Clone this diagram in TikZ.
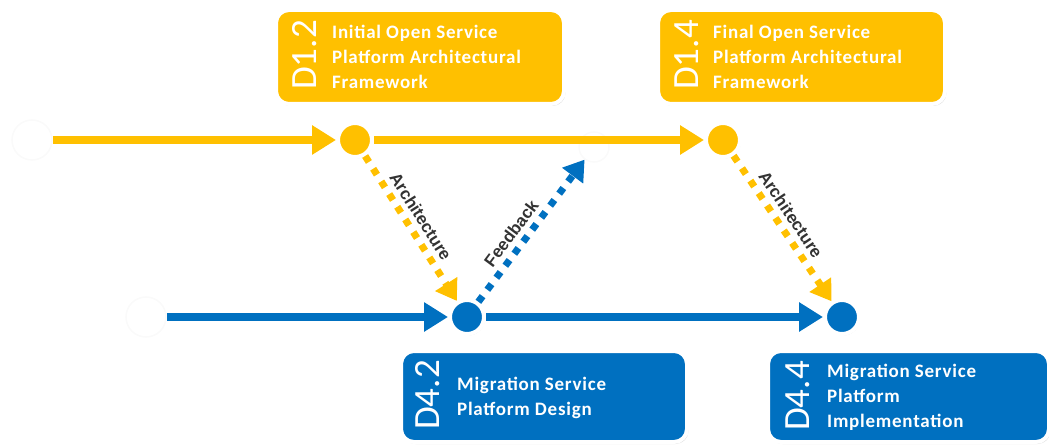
\documentclass[tikz,border=0pt]{standalone}
\usepackage{fontspec}
\setmainfont{Carlito}
\newfontfamily\cardfont[LetterSpace=4]{Carlito}
\newfontfamily\labelfont{Liberation Sans}
\usetikzlibrary{arrows.meta,shadows}
\definecolor{amber}{HTML}{FFC000}
\definecolor{ocean}{HTML}{0070C0}
\definecolor{ink}{HTML}{333333}

\begin{document}
\begin{tikzpicture}[x=1pt,y=-1pt,
  card/.style={rounded corners=13pt, draw=white, line width=4pt,
    drop shadow={opacity=0.25, shadow xshift=1.5pt, shadow yshift=-2pt}},
  ycard/.style={card, fill=amber},
  bcard/.style={card, fill=ocean},
  ident/.style={rotate=90, text=white, font=\fontsize{37}{37}\selectfont, inner sep=0pt},
  desc/.style={anchor=west, align=left, text=white,
    font=\cardfont\bfseries\fontsize{19}{25}\selectfont, inner sep=0pt},
  dot/.style={circle, draw=white, line width=4pt, minimum size=34pt, inner sep=0pt,
    drop shadow={opacity=0.3, shadow xshift=1pt, shadow yshift=-1.5pt}},
  ydot/.style={dot, fill=amber},
  bdot/.style={dot, fill=ocean},
  ghost/.style={circle, draw=black!2, line width=1.5pt, minimum size=40pt, inner sep=0pt},
  track/.style={line width=8pt, -{Triangle[length=24pt,width=28pt]}},
  flow/.style={line width=7pt, dash pattern=on 7pt off 8pt,
    -{Triangle[length=20pt,width=25pt]}},
  tag/.style={sloped, above, font=\labelfont\bfseries\fontsize{17}{17}\selectfont,
    text=ink, inner sep=5pt},
]
\useasboundingbox (0,0) rectangle (1049,446);

% faint start markers
\node[ghost] (g1) at (32,140) {};
\node[ghost] (g3) at (146,317) {};
\node[ghost, minimum size=30pt] (g2) at (594,147) {};

% milestones
\node[ydot] (y1) at (355,140) {};
\node[ydot] (y2) at (723,140) {};
\node[bdot] (b1) at (467,317) {};
\node[bdot] (b2) at (842,317) {};

% deliverable cards
\node[ycard, minimum width=288pt, minimum height=94pt] (c12) at (420,57) {};
\node[ident] (c12id) at (305,55) {D1.2};
\node[desc] (c12tx) at (332,57) {Initial Open Service\\Platform Architectural\\Framework};

\node[ycard, minimum width=287pt, minimum height=94pt] (c14) at (801.5,57) {};
\node[ident] (c14id) at (687,55) {D1.4};
\node[desc] (c14tx) at (713,57) {Final Open Service\\Platform Architectural\\Framework};

\node[bcard, minimum width=286pt, minimum height=91pt] (c42) at (544,396.5) {};
\node[ident] (c42id) at (428,395) {D4.2};
\node[desc] (c42tx) at (457,397.5) {Migration Service\\Platform Design};

\node[bcard, minimum width=281pt, minimum height=91pt] (c44) at (908.5,396.5) {};
\node[ident] (c44id) at (798,396) {D4.4};
\node[desc] (c44tx) at (827,397) {Migration Service\\Platform\\Implementation};

% timelines
\draw[track, amber] (g1) -- (y1);
\draw[track, amber] (y1) -- (y2);
\draw[track, ocean] (g3) -- (b1);
\draw[track, ocean] (b1) -- (b2);

% dependencies
\draw[flow, amber] (y1) -- node[tag, pos=0.47] {Architecture} (b1);
\draw[flow, ocean] (b1) -- node[tag, pos=0.42] {Feedback} (g2);
\draw[flow, amber] (y2) -- node[tag, pos=0.46] {Architecture} (b2);
\end{tikzpicture}
\end{document}
